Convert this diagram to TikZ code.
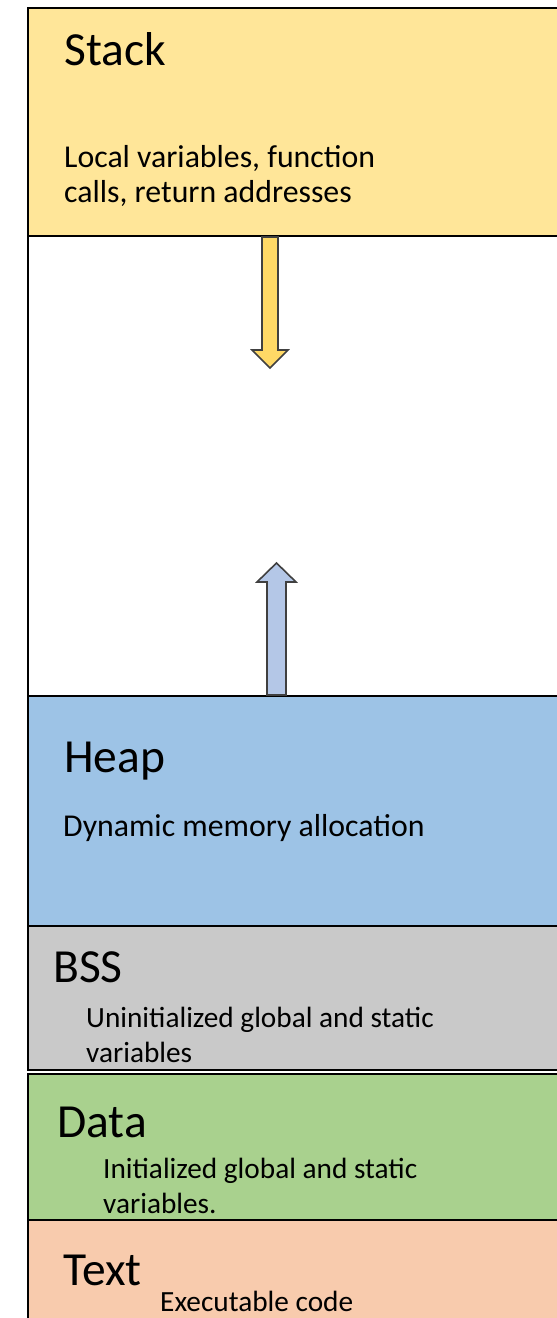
\documentclass[tikz,border=0pt]{standalone}
\usepackage{fontspec}
\setmainfont{Carlito}
\definecolor{stackfill}{HTML}{FFE699}
\definecolor{heapfill}{HTML}{9DC3E6}
\definecolor{bssfill}{HTML}{C9C9C9}
\definecolor{datafill}{HTML}{A9D18E}
\definecolor{textfill}{HTML}{F8CBAD}
\definecolor{downfill}{HTML}{FFD966}
\definecolor{upfill}{HTML}{B4C7E7}
\definecolor{arrowline}{HTML}{404040}
\tikzset{
  segment/.style={draw=black, line width=2pt},
  growarrow/.style={draw=arrowline, line width=1.6pt, line join=miter},
  title/.style={anchor=base west, inner sep=0pt, font=\fontsize{47.5}{52}\selectfont},
  body/.style={anchor=base west, inner sep=0pt, align=left,
    font=\fontsize{31.8}{35}\selectfont},
  smallbody/.style={body, font=\fontsize{29.3}{34.5}\selectfont}
}
\begin{document}
\begin{tikzpicture}[x=1pt,y=-1pt]
\useasboundingbox (0,0) rectangle (557,1318);
\begin{scope}
\clip (0,0) rectangle (557,1318);
% memory segments, top to bottom
\draw[segment, fill=stackfill] (28,8) rectangle (620,236);
\draw[segment, fill=white] (28,236) rectangle (620,696);
\draw[segment, fill=heapfill] (28,696) rectangle (620,926);
\draw[segment, fill=bssfill] (28,926) rectangle (620,1070);
\draw[segment, fill=datafill] (28,1074) rectangle (620,1220);
\draw[segment, fill=textfill] (28,1220) rectangle (620,1340);
\end{scope}

% stack grows down
\draw[growarrow, fill=downfill]
  (262,237) -- (278,237) -- (278,350) -- (288,350) -- (270,368)
  -- (252,350) -- (262,350) -- cycle;
% heap grows up
\draw[growarrow, fill=upfill]
  (267,695) -- (286,695) -- (286,582) -- (296,582) -- (276.5,563)
  -- (257,582) -- (267,582) -- cycle;

% labels (two-line texts are placed by their last baseline)
\node[title] (stack) at (64,65) {Stack};
\node[body] (stackdesc) at (64,202) {Local variables, function\\[0pt]calls, return addresses};

\node[title] (heap) at (64,772) {Heap};
\node[body] (heapdesc) at (63,836) {Dynamic memory allocation};

\node[title] (bss) at (53,982) {BSS};
\node[smallbody] (bssdesc) at (86,1062) {Uninitialized global and static\\[0pt]variables};

\node[title] (data) at (57,1137) {Data};
\node[smallbody] (datadesc) at (103,1213) {Initialized global and static\\[0pt]variables.};

\node[title] (text) at (63,1285) {Text};
\node[smallbody] (textdesc) at (160,1311) {Executable code};
\end{tikzpicture}
\end{document}
